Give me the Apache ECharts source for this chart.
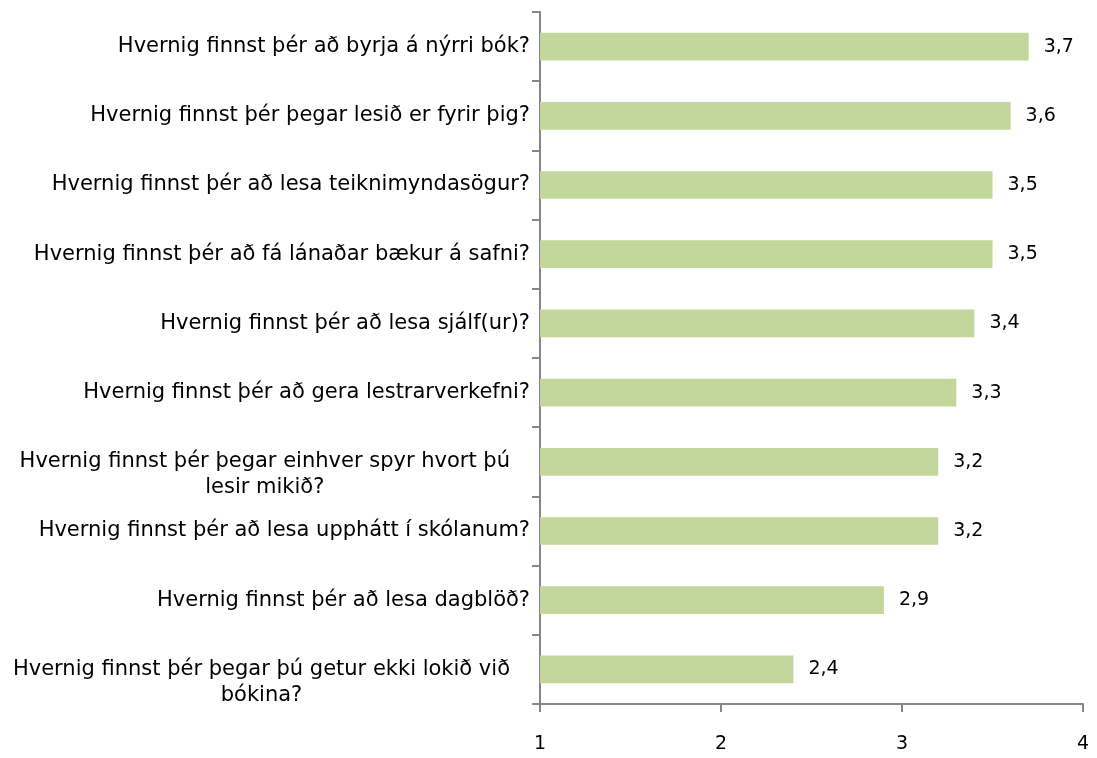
<!DOCTYPE html>
<html>
<head>
<meta charset="utf-8">
<script src="https://cdn.jsdelivr.net/npm/echarts@6/dist/echarts.min.js"></script>
<style>html,body{margin:0;padding:0;background:#fff}#c{width:1097px;height:758px}</style>
</head>
<body>
<div id="c"></div>
<script>
var categories = [
  "Hvernig finnst þér að byrja á nýrri bók?",
  "Hvernig finnst þér þegar lesið er fyrir þig?",
  "Hvernig finnst þér að lesa teiknimyndasögur?",
  "Hvernig finnst þér að fá lánaðar bækur á safni?",
  "Hvernig finnst þér að lesa sjálf(ur)?",
  "Hvernig finnst þér að gera lestrarverkefni?",
  "Hvernig finnst þér þegar einhver spyr hvort þú\nlesir mikið?",
  "Hvernig finnst þér að lesa upphátt í skólanum?",
  "Hvernig finnst þér að lesa dagblöð?",
  "Hvernig finnst þér þegar þú getur ekki lokið við\nbókina?"
];
var values = [3.7, 3.6, 3.5, 3.5, 3.4, 3.3, 3.2, 3.2, 2.9, 2.4];
var xTicks = [1, 2, 3, 4];

var FONT = "DejaVu Sans";
var chart = echarts.init(document.getElementById('c'));
chart.setOption({
  animation: false,
  grid: { left: 540, right: 14, top: 12, bottom: 54, containLabel: false },
  xAxis: {
    type: 'value', min: xTicks[0], max: xTicks[xTicks.length - 1], interval: 1,
    splitLine: { show: false },
    axisLine: { show: true, lineStyle: { color: '#868686', width: 2 } },
    axisTick: { show: true, length: 8, lineStyle: { color: '#868686', width: 2 } },
    axisLabel: { margin: 31, fontFamily: FONT, fontSize: 19, color: '#000' }
  },
  yAxis: {
    type: 'category', data: categories, inverse: true,
    axisLine: { show: true, lineStyle: { color: '#868686', width: 2 } },
    axisTick: { show: true, length: 8, lineStyle: { color: '#868686', width: 2 } },
    axisLabel: {
      margin: 10, align: 'right', fontFamily: FONT, fontSize: 21, color: '#000',
      formatter: function (v) {
        if (v.indexOf('\n') >= 0) {
          var lines = v.split('\n').map(function (l) { return l + '   '; });
          return '{a| \n' + lines.join('\n') + '}';
        }
        return '{a|' + v + '}';
      },
      rich: { a: { align: 'center', fontFamily: FONT, fontSize: 21, color: '#000', lineHeight: 26 } }
    }
  },
  series: [{
    type: 'bar', data: values, barCategoryGap: '60%',
    itemStyle: { color: '#c3d69b' },
    label: {
      show: true, position: 'right', distance: 15, fontFamily: FONT, fontSize: 19, color: '#000',
      formatter: function (p) { return p.value.toFixed(1).replace('.', ','); }
    }
  }]
});
</script>
</body>
</html>
